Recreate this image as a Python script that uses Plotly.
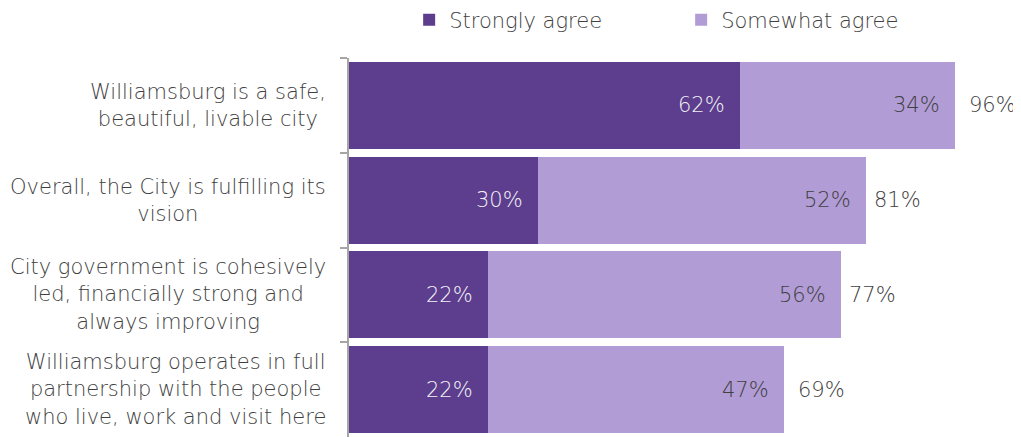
import plotly.graph_objects as go

categories = [
    "Williamsburg is a safe,<br>beautiful, livable city",
    "Overall, the City is fulfilling its<br>vision",
    "City government is cohesively<br>led, financially strong and<br>always improving",
    "Williamsburg operates in full<br>partnership with the people<br>who live, work and visit here",
]
strongly = [62, 30, 22, 22]
somewhat = [34, 52, 56, 47]
totals = [96, 81, 77, 69]
series_names = ["Strongly agree", "Somewhat agree"]

DARK = "#5C3D8E"
LIGHT = "#B19CD6"
TXT = "#404040"
FONT = "DejaVu Sans"
FS = 21

ids = [f"c{i}" for i in range(len(categories))]

fig = go.Figure()
fig.add_trace(go.Bar(y=ids, x=strongly, name=series_names[0], orientation="h",
                     marker=dict(color=DARK, line=dict(width=0))))
fig.add_trace(go.Bar(y=ids, x=somewhat, name=series_names[1], orientation="h",
                     marker=dict(color=LIGHT, line=dict(width=0))))

ann = []
for i, cat in enumerate(categories):
    ann.append(dict(x=0, y=ids[i], xref="paper", yref="y", text=cat, showarrow=False,
                    xanchor="right", xshift=-21, align="center",
                    font=dict(family=FONT, size=FS, color=TXT, weight=200)))
    ann.append(dict(x=strongly[i], y=ids[i], xref="x", yref="y", text=f"{strongly[i]}%",
                    showarrow=False, xanchor="right", xshift=-13,
                    font=dict(family=FONT, size=FS, color="#F2F2F2", weight=200)))
    ann.append(dict(x=strongly[i] + somewhat[i], y=ids[i], xref="x", yref="y", text=f"{somewhat[i]}%",
                    showarrow=False, xanchor="right", xshift=-13,
                    font=dict(family=FONT, size=FS, color=TXT, weight=200)))
    ann.append(dict(x=totals[i], y=ids[i], xref="x", yref="y", text=f"{totals[i]}%",
                    showarrow=False, xanchor="left", xshift=12,
                    font=dict(family=FONT, size=FS, color=TXT, weight=200)))

fig.update_layout(
    width=1013, height=429,
    margin=dict(l=341, r=0, t=50, b=0, autoexpand=False),
    barmode="stack", bargap=0.08,
    plot_bgcolor="white", paper_bgcolor="white",
    showlegend=True,
    legend=dict(orientation="h", xref="container", yref="container",
                x=0.396, y=0.972, xanchor="left", yanchor="middle",
                font=dict(family=FONT, size=FS, color=TXT, weight=200),
                itemwidth=30, entrywidth=227, traceorder="normal"),
    xaxis=dict(range=[0, 106.5], visible=False, fixedrange=True),
    yaxis=dict(type="category", categoryorder="array", categoryarray=ids,
               autorange="reversed", showticklabels=False, automargin=False,
               showline=True, linecolor="#A6A6A6", linewidth=2,
               ticks="outside", tickson="boundaries", ticklen=7, tickcolor="#A6A6A6",
               tickwidth=2, showgrid=False, zeroline=False),
    annotations=ann,
)

fig.write_html("out.html")
